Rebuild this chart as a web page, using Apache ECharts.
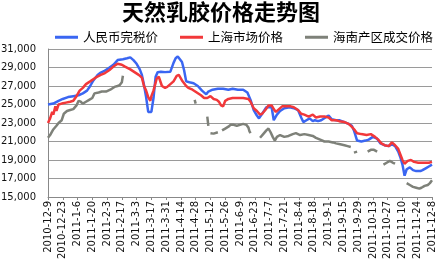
<!DOCTYPE html>
<html><head><meta charset="utf-8">
<script src="https://cdn.jsdelivr.net/npm/echarts@6/dist/echarts.min.js"></script>
<style>html,body{margin:0;padding:0;background:#fff}#c{width:442px;height:262px}</style>
</head><body><div id="c"></div>
<script>
const titleText = '天然乳胶价格走势图';
const seriesNames = ['人民币完税价', '上海市场价格', '海南产区成交价格'];
const xTickLabels = ['2010-12-9','2010-12-23','2011-1-6','2011-1-20','2011-2-3','2011-2-17','2011-3-3','2011-3-17','2011-3-31','2011-4-14','2011-4-28','2011-5-12','2011-5-26','2011-6-9','2011-6-23','2011-7-7','2011-7-21','2011-8-4','2011-8-18','2011-9-1','2011-9-15','2011-9-29','2011-10-13','2011-10-27','2011-11-10','2011-11-24','2011-12-8'];

const blueDates = ['2010-12-9','2010-12-14','2010-12-19','2010-12-23','2010-12-28','2011-1-2','2011-1-7','2011-1-11','2011-1-15','2011-1-18','2011-1-21','2011-1-25','2011-1-28','2011-1-31','2011-2-4','2011-2-9','2011-2-13','2011-2-18','2011-2-22','2011-2-25','2011-2-28','2011-3-3','2011-3-6','2011-3-8','2011-3-10','2011-3-12','2011-3-14','2011-3-17','2011-3-19','2011-3-21','2011-3-23','2011-3-26','2011-3-30','2011-4-4','2011-4-7','2011-4-9','2011-4-11','2011-4-13','2011-4-15','2011-4-17','2011-4-19','2011-4-22','2011-4-26','2011-4-30','2011-5-4','2011-5-8','2011-5-10','2011-5-14','2011-5-19','2011-5-24','2011-5-29','2011-6-2','2011-6-7','2011-6-12','2011-6-16','2011-6-19','2011-6-22','2011-6-25','2011-6-27','2011-6-30','2011-7-4','2011-7-9','2011-7-11','2011-7-14','2011-7-17','2011-7-21','2011-7-26','2011-7-30','2011-8-3','2011-8-6','2011-8-8','2011-8-11','2011-8-14','2011-8-17','2011-8-19','2011-8-22','2011-8-25','2011-8-29','2011-9-1','2011-9-4','2011-9-8','2011-9-11','2011-9-16','2011-9-20','2011-9-23','2011-9-25','2011-9-28','2011-10-2','2011-10-6','2011-10-9','2011-10-13','2011-10-17','2011-10-20','2011-10-24','2011-10-28','2011-10-31','2011-11-3','2011-11-6','2011-11-8','2011-11-10','2011-11-12','2011-11-14','2011-11-17','2011-11-20','2011-11-23','2011-11-27','2011-11-29','2011-12-2','2011-12-5','2011-12-8'];
const blueValues = [25000,25100,25400,25600,25800,25900,26000,26200,26500,27000,27600,28200,28450,28600,28900,29300,29800,29900,30000,30100,29800,29400,28800,28200,27100,25800,24200,24200,25700,28000,28500,28550,28500,28550,29500,30000,30200,29900,29600,28700,27500,27400,27300,27000,26500,26100,26400,26600,26700,26700,26600,26700,26600,26600,26300,25500,24400,23800,23500,24000,24700,24700,23300,23900,24300,24600,24700,24600,24400,23600,23100,23300,23500,23200,23300,23200,23300,23600,23800,23400,23300,23300,23100,22900,22700,22200,21100,21000,21100,21200,21500,21300,20800,20600,20500,20700,20500,19900,19300,18500,17300,18000,18200,17900,17800,17800,17900,18100,18300,18500];

const redDates = ['2010-12-9','2010-12-11','2010-12-13','2010-12-14','2010-12-16','2010-12-17','2010-12-19','2010-12-22','2010-12-26','2010-12-30','2011-1-2','2011-1-5','2011-1-8','2011-1-11','2011-1-14','2011-1-18','2011-1-23','2011-1-28','2011-2-1','2011-2-5','2011-2-9','2011-2-13','2011-2-17','2011-2-20','2011-2-25','2011-3-1','2011-3-5','2011-3-8','2011-3-10','2011-3-12','2011-3-14','2011-3-16','2011-3-17','2011-3-19','2011-3-22','2011-3-24','2011-3-27','2011-3-30','2011-4-1','2011-4-4','2011-4-7','2011-4-10','2011-4-12','2011-4-15','2011-4-17','2011-4-19','2011-4-21','2011-4-25','2011-4-29','2011-5-3','2011-5-6','2011-5-9','2011-5-12','2011-5-15','2011-5-18','2011-5-20','2011-5-22','2011-5-24','2011-5-26','2011-5-29','2011-6-2','2011-6-7','2011-6-12','2011-6-17','2011-6-19','2011-6-22','2011-6-25','2011-6-28','2011-6-30','2011-7-3','2011-7-6','2011-7-9','2011-7-11','2011-7-13','2011-7-16','2011-7-19','2011-7-23','2011-7-27','2011-7-30','2011-8-3','2011-8-6','2011-8-9','2011-8-13','2011-8-17','2011-8-20','2011-8-24','2011-8-28','2011-9-1','2011-9-4','2011-9-8','2011-9-11','2011-9-16','2011-9-20','2011-9-23','2011-9-26','2011-9-28','2011-10-2','2011-10-7','2011-10-11','2011-10-15','2011-10-18','2011-10-21','2011-10-24','2011-10-28','2011-10-31','2011-11-3','2011-11-6','2011-11-8','2011-11-10','2011-11-12','2011-11-15','2011-11-18','2011-11-21','2011-11-25','2011-11-28','2011-12-2','2011-12-5','2011-12-8'];
const redValues = [23000,23500,24200,23900,24800,24300,25000,25100,25200,25300,25400,25900,26500,26800,27200,27500,27900,28200,28400,28700,29100,29400,29300,29100,28800,28500,28200,27900,27000,26500,25800,25400,25900,26500,27800,28000,27000,26800,26900,27200,27500,28100,28200,27600,27300,27000,26800,26600,26300,26000,25700,25700,25900,25600,25500,25300,24900,24800,25400,25600,25700,25700,25700,25600,25300,24600,24300,23900,24000,24400,24900,24900,24500,24200,24500,24800,24800,24800,24700,24400,24000,23900,23700,23900,23600,23700,23700,23600,23300,23300,23200,23100,22900,22600,22200,21900,21800,21700,21800,21500,21200,20800,20600,20500,20900,20600,20200,19600,19000,18600,18900,19000,18800,18700,18700,18700,18700,18800];

const grayDates = ['2010-12-9','2010-12-11','2010-12-14','2010-12-17','2010-12-19','2010-12-22','2010-12-24','2010-12-27','2010-12-30','2011-1-2','2011-1-5','2011-1-7','2011-1-9','2011-1-11','2011-1-14','2011-1-17','2011-1-20','2011-1-22','2011-1-26','2011-1-29','2011-2-2','2011-2-6','2011-2-10','2011-2-13','2011-2-15','2011-2-17','2011-2-18','2011-2-20','2011-4-27','2011-4-28','2011-5-1','2011-5-9','2011-5-10','2011-5-11','2011-5-12','2011-5-15','2011-5-19','2011-5-21','2011-5-23','2011-5-26','2011-5-29','2011-5-31','2011-6-3','2011-6-6','2011-6-9','2011-6-12','2011-6-15','2011-6-17','2011-6-18','2011-6-19','2011-6-23','2011-6-28','2011-7-1','2011-7-4','2011-7-6','2011-7-8','2011-7-10','2011-7-12','2011-7-14','2011-7-17','2011-7-21','2011-7-25','2011-7-29','2011-8-1','2011-8-5','2011-8-9','2011-8-13','2011-8-17','2011-8-20','2011-8-24','2011-8-28','2011-9-1','2011-9-5','2011-9-8','2011-9-12','2011-9-16','2011-9-19','2011-9-22','2011-9-23','2011-9-25','2011-9-28','2011-10-3','2011-10-8','2011-10-11','2011-10-14','2011-10-17','2011-10-20','2011-10-23','2011-10-26','2011-10-29','2011-11-1','2011-11-3','2011-11-8','2011-11-14','2011-11-17','2011-11-20','2011-11-23','2011-11-26','2011-11-28','2011-12-1','2011-12-4','2011-12-6','2011-12-8'];
const grayValues = [21400,21700,22300,22700,23000,23300,24000,24300,24400,24500,24900,25400,25300,25100,25300,25500,25700,26200,26300,26400,26400,26600,26900,27000,27100,27400,28100,null,25500,25100,null,23700,22700,null,21900,21850,22000,null,22200,22400,22600,22800,22800,22700,22800,22900,22800,22500,22100,21900,null,21400,21800,22200,22400,22000,21500,21100,21500,21700,21500,21600,21800,21900,21700,21800,21700,21600,21400,21200,21000,21000,20900,20800,20700,20600,20500,20400,null,19800,19900,null,19900,20100,20100,19900,null,18500,18700,18900,18700,18600,null,16500,16300,16100,16000,15900,16000,16200,16300,16500,16800];

const seriesColors = ['#3A66F2', '#F2383A', '#7E8179'];

function dayIndex(s) {
  const p = s.split('-').map(Number);
  return Math.round((Date.UTC(p[0], p[1] - 1, p[2]) - Date.UTC(2010, 11, 9)) / 86400000);
}
function pairs(dates, vals) {
  return dates.map((d, i) => [dayIndex(d), vals[i] == null ? '-' : vals[i]]);
}

const chart = echarts.init(document.getElementById('c'), null, {renderer: 'canvas'});
const lineSeries = (name, dates, vals, color) => ({
  name, type: 'line', data: pairs(dates, vals), showSymbol: false, symbol: 'none',
  connectNulls: false, lineStyle: {color, width: 2.5}, itemStyle: {color}
});
chart.setOption({
  animation: false,
  backgroundColor: '#fff',
  title: {
    text: titleText, left: 'center', top: 0, padding: [1, 0, 0, 0],
    textStyle: {fontSize: 22, fontWeight: 'bold', color: '#000', fontFamily: 'Noto Sans CJK SC'}
  },
  legend: {
    left: 50, top: 26, itemGap: 22, itemWidth: 23, itemHeight: 3, icon: 'rect',
    textStyle: {fontSize: 12.5, color: '#000', fontFamily: 'Noto Sans CJK SC'},
    data: seriesNames
  },
  grid: {left: 48, top: 49, width: 384, height: 148, containLabel: false, outerBoundsMode: 'none'},
  xAxis: {
    type: 'value', min: 0, max: 364, interval: 14,
    axisLine: {show: true, lineStyle: {color: '#888', width: 1}},
    axisTick: {show: true, length: 3, lineStyle: {color: '#888'}},
    splitLine: {show: false},
    axisLabel: {
      rotate: 90, margin: 4, fontSize: 10, color: '#111', fontFamily: 'DejaVu Sans',
      formatter: v => xTickLabels[Math.round(v / 14)] || ''
    }
  },
  yAxis: {
    type: 'value', min: 15000, max: 31000, interval: 2000,
    axisLine: {show: true, lineStyle: {color: '#888', width: 1}},
    axisTick: {show: false},
    splitLine: {show: true, lineStyle: {color: '#9a9a9a', width: 1}},
    axisLabel: {margin: 12, fontSize: 10, color: '#111', fontFamily: 'DejaVu Sans'}
  },
  series: [
    lineSeries(seriesNames[0], blueDates, blueValues, seriesColors[0]),
    lineSeries(seriesNames[1], redDates, redValues, seriesColors[1]),
    lineSeries(seriesNames[2], grayDates, grayValues, seriesColors[2])
  ]
});
</script>
</body></html>
